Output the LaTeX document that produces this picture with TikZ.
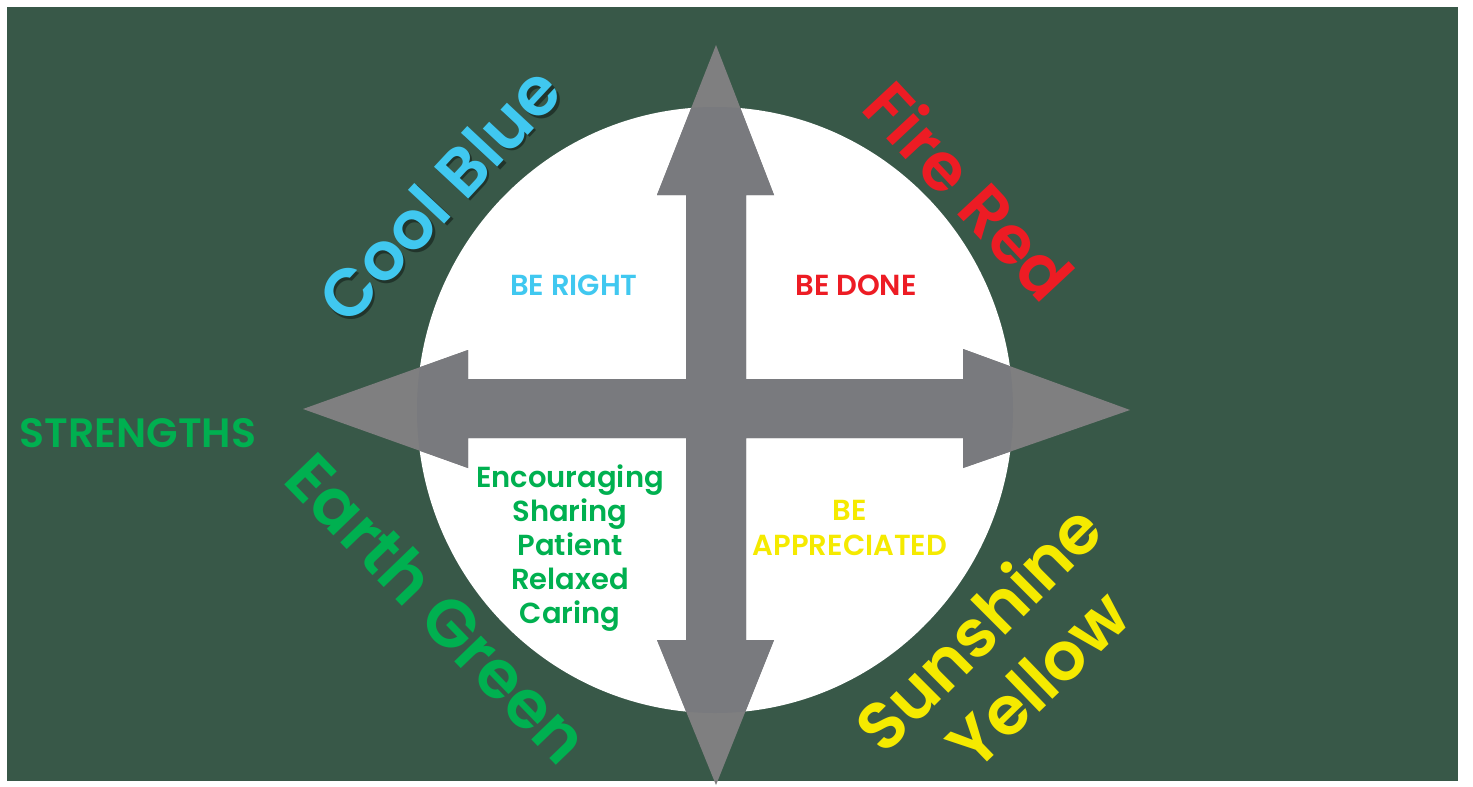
\documentclass[tikz,border=0pt]{standalone}
\usepackage{fontspec}
\setmainfont{Poppins}[BoldFont={Poppins SemiBold}]
\definecolor{bggreen}{RGB}{56,88,72}
\definecolor{greyout}{RGB}{127,127,128}
\definecolor{greyin}{RGB}{121,122,126}
\definecolor{coolblue}{RGB}{64,200,240}
\definecolor{firered}{RGB}{237,28,36}
\definecolor{earthgreen}{RGB}{0,176,80}
\definecolor{sunyellow}{RGB}{245,234,0}
\tikzset{
  biglabel/.style={font=\fontsize{67}{78}\selectfont\bfseries, inner sep=0pt, anchor=base},
  smalllabel/.style={font=\fontsize{29}{34}\selectfont\bfseries, inner sep=0pt, anchor=base},
}
\newcommand{\arrowcross}{%
  (716,45) -- (774,195) -- (746,195) -- (746,640) -- (774,640) -- (716,785) -- (657,640) -- (686,640) -- (686,195) -- (657,195) -- cycle
  (303,409) -- (468,350) -- (468,379) -- (963,379) -- (963,349) -- (1130,410) -- (963,468) -- (963,438) -- (468,438) -- (468,468) -- cycle}
\begin{document}
\begin{tikzpicture}[x=1pt,y=-1pt]
\useasboundingbox (0,0) rectangle (1473,787);
\fill[white] (0,0) rectangle (1473,787);
\fill[bggreen] (7,7) rectangle (1458,781);
\fill[white] (715,410) ellipse [x radius=298, y radius=303];
% arrows
\fill[greyout] \arrowcross;
\begin{scope}
  \clip (715,410) ellipse [x radius=298, y radius=303];
  \fill[greyin] \arrowcross;
\end{scope}
% quadrant words
\node[biglabel, black, opacity=0.4, rotate=47] (coolshadow) at (459.5,213.5) {Cool Blue};
\node[biglabel, coolblue, rotate=47] (cool) at (457,211) {Cool Blue};
\node[biglabel, firered, rotate=-47] (fire) at (951,208) {Fire Red};
\node[biglabel, earthgreen, rotate=-46] (earth) at (420,625) {Earth Green};
\node[biglabel, sunyellow, rotate=45] (sun) at (996,645) {Sunshine};
\node[biglabel, sunyellow, rotate=44] (yellow) at (1055,697) {Yellow};
% inner texts
\node[smalllabel, coolblue] (right) at (574,295) {BE RIGHT};
\node[smalllabel, firered] (done) at (856,295) {BE DONE};
\node[smalllabel, sunyellow] (be) at (850,520) {BE};
\node[smalllabel, sunyellow] (appr) at (850,555) {APPRECIATED};
\node[smalllabel, earthgreen] (l1) at (570,487) {Encouraging};
\node[smalllabel, earthgreen] (l2) at (570,521) {Sharing};
\node[smalllabel, earthgreen] (l3) at (570,555) {Patient};
\node[smalllabel, earthgreen] (l4) at (570,589) {Relaxed};
\node[smalllabel, earthgreen] (l5) at (570,623) {Caring};
\node[smalllabel, earthgreen, font=\fontsize{41}{48}\selectfont\bfseries] (str) at (138,447) {STRENGTHS};
\end{tikzpicture}
\end{document}
